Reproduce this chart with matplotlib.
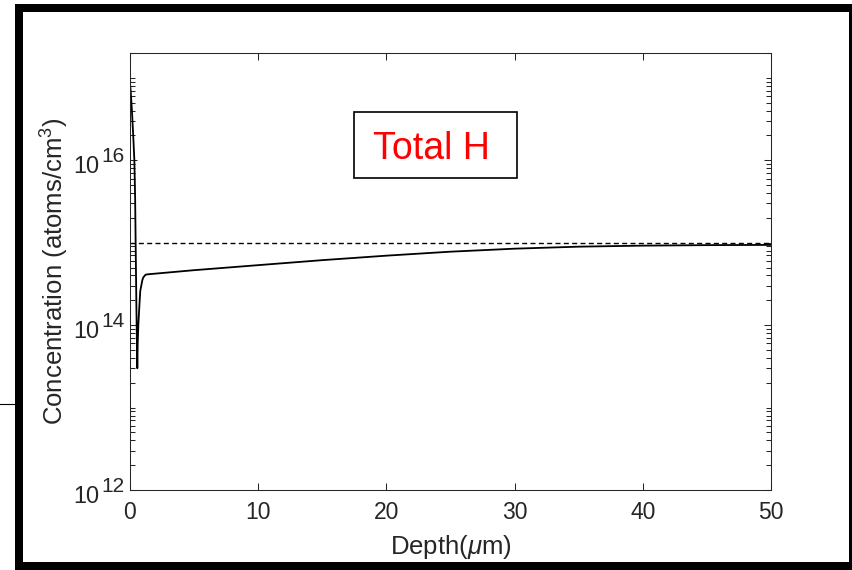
import numpy as np
import matplotlib
matplotlib.use("Agg")
import matplotlib.pyplot as plt
import matplotlib.transforms as mtransforms
from matplotlib.patches import Rectangle
from matplotlib.lines import Line2D
from matplotlib.ticker import FixedLocator, NullFormatter

plt.rcParams["font.family"] = ["Liberation Sans", "DejaVu Sans"]
plt.rcParams["mathtext.fontset"] = "custom"
plt.rcParams["mathtext.rm"] = "Liberation Sans"
plt.rcParams["mathtext.it"] = "Liberation Sans:italic"

# total hydrogen depth profile
depth = [0.0, 0.05, 0.15, 0.25, 0.34, 0.40, 0.44, 0.50, 0.57, 0.60, 0.65,
         0.73, 0.80, 0.96, 1.04, 1.22, 1.5, 5, 10, 15, 20, 25, 30, 35,
         40, 45, 50]
conc = [8.5e16, 7.0e16, 4.0e16, 2.0e16, 1.0e16, 3.5e15, 1.0e15, 1.6e14,
        3.0e13, 6.0e13, 1.0e14, 1.7e14, 2.6e14, 3.5e14, 3.8e14, 4.1e14,
        4.15e14, 4.64e14, 5.34e14, 6.14e14, 6.96e14, 7.78e14, 8.46e14,
        8.95e14, 9.21e14, 9.34e14, 9.40e14]

ref_level = 1e15
x_ticks = [0, 10, 20, 30, 40, 50]
y_exponents = [12, 14, 16]
label_text = "Total H"

W, H = 853, 570
fig = plt.figure(figsize=(W / 100, H / 100), dpi=100)
ax = fig.add_axes([130 / W, 1 - 490 / H, 641 / W, 437 / H])

ink = "#262626"
ax.plot(depth, conc, color="black", lw=1.3)
ax.plot([x_ticks[0], x_ticks[-1]], [ref_level, ref_level], color="black",
        lw=1.0, dashes=(3.6, 2.4))

ax.set_yscale("log")
ax.set_xlim(0, 50)
ax.set_ylim(1e12, 2e17)

ax.set_xticks(x_ticks)
y_major = [10.0 ** e for e in y_exponents]
ax.yaxis.set_major_locator(FixedLocator(y_major))
ax.yaxis.set_major_formatter(NullFormatter())
minor = [k * 10.0 ** n for n in range(12, 18) for k in range(1, 10)
         if k * 10.0 ** n not in y_major]
ax.yaxis.set_minor_locator(FixedLocator(minor))
ax.yaxis.set_minor_formatter(NullFormatter())

ax.tick_params(which="both", direction="in", top=True, right=True,
               colors=ink, width=0.75, labelsize=16.5)
ax.tick_params(which="major", length=5)
ax.tick_params(which="minor", length=3.5)
ax.tick_params(axis="x", pad=8)
for s in ax.spines.values():
    s.set_color(ink)
    s.set_linewidth(0.75)

# y tick labels as base + large exponent
trans = mtransforms.blended_transform_factory(ax.transAxes, ax.transData)
for e, v in zip(y_exponents, y_major):
    ax.annotate("10", xy=(0, v), xycoords=trans, xytext=(-22.1, -9.4),
                textcoords="offset points", ha="right", va="baseline",
                fontsize=16.8, color=ink)
    ax.annotate(str(e), xy=(0, v), xycoords=trans, xytext=(-20.4, -1.4),
                textcoords="offset points", ha="left", va="baseline",
                fontsize=15, color=ink)

ax.set_xlabel(r"Depth($\mu$m)", fontsize=18.5, color=ink)
ax.set_ylabel(r"Concentration (atoms/cm$^{\mathdefault{3}}$)", fontsize=18.5,
              color=ink)
ax.xaxis.set_label_coords(0.5, -0.098)
ax.yaxis.set_label_coords(-0.092, 0.5)

# label box
fig.add_artist(Rectangle((354 / W, 1 - 178 / H), 163 / W, 66 / H,
                         transform=fig.transFigure, facecolor="white",
                         edgecolor="black", lw=1.2))
fig.text(431 / W, 1 - 159.3 / H, label_text, color="red", fontsize=27,
         ha="center", va="baseline")

# outer frame
for x0, y0, w, h in [(15, 4, 8, 566), (849, 4, 4, 566),
                     (15, 4, 838, 8), (15, 562, 838, 8)]:
    fig.add_artist(Rectangle((x0 / W, 1 - (y0 + h) / H), w / W, h / H,
                             transform=fig.transFigure, facecolor="black",
                             edgecolor="none"))
fig.add_artist(Line2D([0, 15 / W], [1 - 404 / H, 1 - 404 / H],
                      transform=fig.transFigure, color="black", lw=0.8))

fig.savefig("out.png", dpi=100)
